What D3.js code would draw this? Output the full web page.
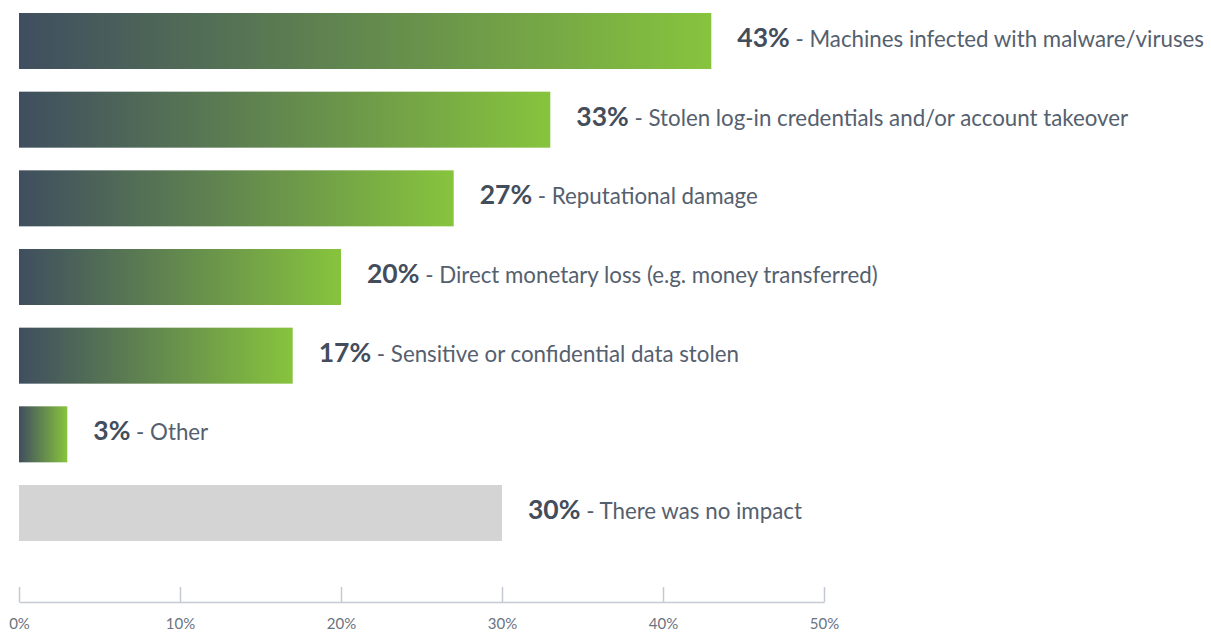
<!DOCTYPE html>
<html>
<head>
<meta charset="utf-8">
<script src="https://cdn.jsdelivr.net/npm/d3@7"></script>
<style>
  body { margin: 0; background: #fff; }
  text { font-family: Lato, "Open Sans", sans-serif; }
</style>
</head>
<body>
<div id="body"></div>
<script>
var categories = [
  "Machines infected with malware/viruses",
  "Stolen log-in credentials and/or account takeover",
  "Reputational damage",
  "Direct monetary loss (e.g. money transferred)",
  "Sensitive or confidential data stolen",
  "Other",
  "There was no impact"
];
var values = [43, 33, 27, 20, 17, 3, 30];
var noImpact = [false, false, false, false, false, false, true];
var tickValues = [0, 10, 20, 30, 40, 50];

var margin = {top: 13, left: 19},
width = 1211,
height = 633;

var svg = d3.select("#body")
.append("svg")
.attr("width", width)
.attr("height", height);

var defs = svg.append("defs");
var grad = defs.append("linearGradient")
  .attr("id", "barGrad")
  .attr("x1", "0%").attr("x2", "100%")
  .attr("y1", "0%").attr("y2", "0%");
grad.append("stop").attr("offset", "0%").attr("stop-color", "#3f4e5f");
grad.append("stop").attr("offset", "100%").attr("stop-color", "#87c43d");

var x = d3.scaleLinear()
  .domain([0, 50])
  .range([margin.left, 824]);

var y = d3.scaleBand()
  .domain(d3.range(categories.length))
  .range([margin.top, 541])
  .paddingInner(0.288)
  .paddingOuter(0);

var chart = svg.append("g");

chart.selectAll("rect")
  .data(values)
  .enter().append("rect")
  .attr("x", x(0))
  .attr("y", function(d, i) { return y(i); })
  .attr("width", function(d) { return x(d) - x(0); })
  .attr("height", y.bandwidth())
  .attr("fill", function(d, i) { return noImpact[i] ? "#d4d4d4" : "url(#barGrad)"; });

var labels = chart.selectAll(".label")
  .data(values)
  .enter().append("text")
  .attr("class", "label")
  .attr("x", function(d) { return x(d) + 26; })
  .attr("y", function(d, i) { return y(i) + y.bandwidth() / 2; })
  .attr("dy", "0.38em");

labels.append("tspan")
  .attr("font-size", "26.5px")
  .attr("font-weight", 700)
  .attr("fill", "#434d5b")
  .text(function(d) { return d + "%"; });

labels.append("tspan")
  .attr("font-size", "22.3px")
  .attr("fill", "#55606e")
  .text(function(d, i) { return " - " + categories[i]; });

var axis = d3.axisBottom(x)
  .tickValues(tickValues)
  .tickSize(15)
  .tickSizeOuter(0)
  .tickFormat(function(d) { return d + "%"; });

var axisG = chart.append("g")
  .attr("transform", "translate(0, 602)")
  .call(axis);

axisG.select(".domain").attr("stroke", "#c5c9d3").attr("stroke-width", 1.5);
axisG.selectAll(".tick line")
  .attr("y2", -15)
  .attr("stroke", "#c5c9d3")
  .attr("stroke-width", 1.5);
axisG.selectAll(".tick text")
  .attr("y", 16)
  .attr("font-size", "15px")
  .attr("fill", "#6b7380")
  .attr("font-family", "Lato, sans-serif");
</script>
</body>
</html>
